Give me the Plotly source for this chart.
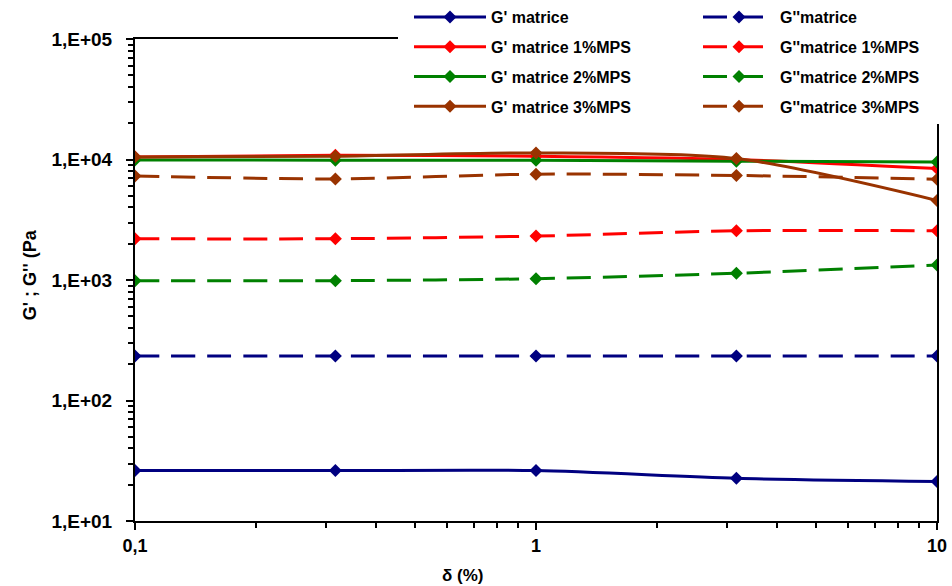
import plotly.graph_objects as go

# ---- data ----
strain = [0.1, 0.316, 1, 3.16, 10]

g1_matrice = [26.2, 26.2, 26.2, 22.6, 21.3]
g2_matrice = [234, 234, 234, 234, 234]
g1_1mps = [10500, 10850, 10650, 10000, 8420]
g2_1mps = [2200, 2200, 2315, 2560, 2560]
g1_2mps = [9900, 9870, 9870, 9680, 9550]
g2_2mps = [987, 987, 1025, 1137, 1330]
g1_3mps = [10500, 10650, 11340, 10190, 4575]
g2_3mps = [7310, 6900, 7560, 7370, 6870]

names_g1 = ["G' matrice", "G' matrice 1%MPS", "G' matrice 2%MPS", "G' matrice 3%MPS"]
names_g2 = ["G''matrice", "G''matrice 1%MPS", "G''matrice 2%MPS", "G''matrice 3%MPS"]
colors = ["#000080", "#FF0000", "#008000", "#993300"]

x_tickvals = [0.1, 1, 10]
x_ticktext = ["0,1", "1", "10"]
y_tickvals = [10, 100, 1000, 10000, 100000]
y_ticktext = ["1,E+01", "1,E+02", "1,E+03", "1,E+04", "1,E+05"]

FONT = "Arial, Liberation Sans, sans-serif"

fig = go.Figure()
g1_series = [g1_matrice, g1_1mps, g1_2mps, g1_3mps]
g2_series = [g2_matrice, g2_1mps, g2_2mps, g2_3mps]

for i in range(4):
    fig.add_trace(go.Scatter(
        x=strain, y=g1_series[i], name=names_g1[i], mode="lines+markers",
        line=dict(color=colors[i], width=3, shape="spline", smoothing=0.8),
        marker=dict(symbol="diamond", size=10, color=colors[i]),
        legend="legend", legendgroup="a%d" % i,
    ))
for i in range(4):
    fig.add_trace(go.Scatter(
        x=strain, y=g2_series[i], name=names_g2[i], mode="lines+markers",
        line=dict(color=colors[i], width=3, dash="24px,12px", shape="spline", smoothing=0.8),
        marker=dict(symbol="diamond", size=10, color=colors[i]),
        legend="legend2", legendgroup="b%d" % i,
    ))

legend_common = dict(
    bgcolor="white", borderwidth=0, orientation="v",
    font=dict(family=FONT, size=16, color="black", weight="bold"),
    tracegroupgap=6, itemwidth=72,
    xref="container", yref="container", yanchor="top", xanchor="left",
)

# plot-area geometry (pixels) used to place the legend's white backing box
L, R, T, B, W, H = 135, 15, 39, 65, 952, 586
PW, PH = W - L - R, H - T - B

fig.update_layout(
    width=W, height=H,
    margin=dict(l=L, r=R, t=T, b=B, autoexpand=False),
    paper_bgcolor="white", plot_bgcolor="white",
    showlegend=True,
    legend=dict(x=409/952, y=1.0, **legend_common),
    legend2=dict(x=698/952, y=1.0, **legend_common),
    shapes=[dict(
        type="rect", layer="above", xref="paper", yref="paper",
        x0=(398 - L) / PW, x1=(W - L) / PW,
        y0=(H - B - 124) / PH, y1=(H - B) / PH,
        fillcolor="white", line=dict(width=0),
    )],
    xaxis=dict(
        type="log", range=[-1, 1],
        tickvals=x_tickvals, ticktext=x_ticktext,
        ticks="outside", ticklen=7, tickwidth=2, tickcolor="black",
        showline=True, linecolor="black", linewidth=2, mirror=True,
        showgrid=False, zeroline=False,
        tickfont=dict(family=FONT, size=18, color="black", weight="bold"),
        minor=dict(ticks="outside", ticklen=5, tickwidth=1.5, tickcolor="black", dtick="D1", showgrid=False),
    ),
    yaxis=dict(
        type="log", range=[1, 5],
        tickvals=y_tickvals, ticktext=y_ticktext,
        ticks="outside", ticklen=7, tickwidth=2, tickcolor="black",
        showline=True, linecolor="black", linewidth=2, mirror=True,
        showgrid=False, zeroline=False,
        tickfont=dict(family=FONT, size=19, color="black", weight="bold"),
        ticklabelstandoff=10,
        minor=dict(ticks="outside", ticklen=5, tickwidth=1.5, tickcolor="black", dtick="D1", showgrid=False),
    ),
    annotations=[
        dict(text="G' ; G'' (Pa", textangle=-90, xref="paper", yref="paper",
             x=(30 - L) / PW, y=0.51, xanchor="center", yanchor="middle", showarrow=False,
             font=dict(family=FONT, size=18, color="black", weight="bold")),
        dict(text="δ (%)", xref="paper", yref="paper",
             x=(462 - L) / PW, y=-0.09, xanchor="center", yanchor="top", showarrow=False,
             font=dict(family=FONT, size=17, color="black", weight="bold")),
    ],
)

fig.write_html(
    "out.html",
    config={"displayModeBar": False},
    post_script="document.body.style.margin='0';document.body.style.overflow='hidden';",
)
